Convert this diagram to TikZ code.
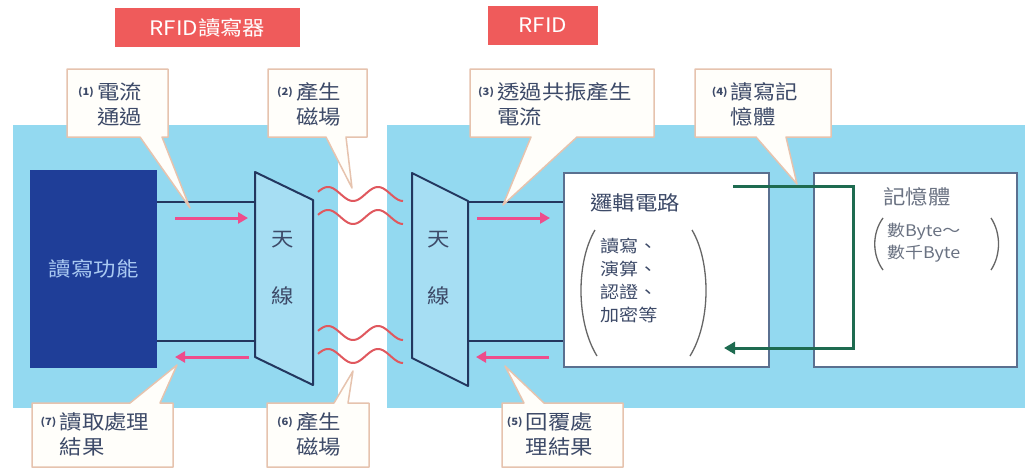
\documentclass[tikz,border=0pt]{standalone}
\usepackage{fontspec}
\setmainfont{Noto Sans CJK TC}[FakeStretch=1.12]
\usetikzlibrary{arrows.meta}
\definecolor{bgblue}{HTML}{93D9F0}
\definecolor{antfill}{HTML}{A6DEF3}
\definecolor{navy}{HTML}{23375F}
\definecolor{darkbox}{HTML}{1F3E98}
\definecolor{darktxt}{HTML}{A9C9F2}
\definecolor{txt}{HTML}{3D4A68}
\definecolor{graytxt}{HTML}{6A7282}
\definecolor{pinkar}{HTML}{EE4D8C}
\definecolor{wavec}{HTML}{E0585E}
\definecolor{titlered}{HTML}{EF5B5B}
\definecolor{callb}{HTML}{E6C3AE}
\definecolor{callf}{HTML}{FFFEFA}
\definecolor{greenar}{HTML}{1E6B50}
\definecolor{boxline}{HTML}{5A7090}
\newcommand\cnum[1]{\raisebox{4pt}{\fontsize{10}{12}\selectfont\bfseries #1}}
\begin{document}
\begin{tikzpicture}[x=1pt,y=-1pt,
  callout/.style={draw=callb,fill=callf,line width=1.5pt,line join=round},
  ctext/.style={text=txt,font=\fontsize{20}{25}\selectfont,inner sep=0pt},
  title/.style={fill=titlered,text=white,font=\fontsize{20}{24}\selectfont,inner sep=0pt,minimum height=39pt},
  antenna/.style={draw=navy,fill=antfill,line width=2pt,line join=round},
  wire/.style={draw=navy,line width=2.5pt},
  pinkarrow/.style={draw=pinkar,line width=3pt,-{Triangle[length=10pt,width=11pt]}},
  wave/.style={draw=wavec,line width=2pt},
  whitebox/.style={draw=boxline,fill=white,line width=1.5pt,inner sep=0pt,anchor=north west},
  paren/.style={draw=gray!80!black,line width=1.3pt}
]
\useasboundingbox (0,0) rectangle (1025,472);
\fill[white] (0,0) rectangle (1025,472);
% backgrounds
\fill[bgblue] (13,125) rectangle (338,408);
\fill[bgblue] (387,125) rectangle (1025,408);
% titles
\node[title,minimum width=185pt] (t1) at (207.5,27.5) {RFID讀寫器};
\node[title,minimum width=110pt] (t2) at (543,25.5) {RFID};
% reader function box
\node[fill=darkbox,minimum width=127pt,minimum height=198pt,inner sep=0pt,anchor=north west,
      text=darktxt,font=\fontsize{20}{24}\selectfont] (rw) at (30,170) {讀寫功能};
% antennas
\draw[antenna] (255,172) coordinate (a1tl) -- (313,200) coordinate (a1tr) -- (313,385) coordinate (a1br) -- (255,357) coordinate (a1bl) -- cycle;
\draw[antenna] (412,173) coordinate (a2tl) -- (468,201) coordinate (a2tr) -- (468,386) coordinate (a2br) -- (412,358) coordinate (a2bl) -- cycle;
\node[text=txt,font=\fontsize{20}{24}\selectfont] (a1t) at (283,240) {天};
\node[text=txt,font=\fontsize{20}{24}\selectfont] (a1b) at (283,296) {線};
\node[text=txt,font=\fontsize{20}{24}\selectfont] (a2t) at (439,240) {天};
\node[text=txt,font=\fontsize{20}{24}\selectfont] (a2b) at (439,296) {線};
% logic box and memory box
\node[whitebox,minimum width=205pt,minimum height=194pt] (logic) at (563,172) {};
\node[whitebox,minimum width=203pt,minimum height=194pt] (mem) at (813,172) {};
% wires
\draw[wire] (rw.north east |- 0,202) -- (255,202);
\draw[wire] (rw.north east |- 0,341) -- (255,341);
\draw[wire] (468,202) -- (logic.north west |- 0,202);
\draw[wire] (468,341) -- (logic.north west |- 0,341);
% pink arrows
\coordinate (p1s) at (175,218); \coordinate (p1e) at (248,218);
\coordinate (p2s) at (477,218); \coordinate (p2e) at (550,218);
\coordinate (p3s) at (249,357); \coordinate (p3e) at (175,357);
\coordinate (p4s) at (549,357); \coordinate (p4e) at (476,357);
\draw[pinkarrow] (p1s) -- (p1e);
\draw[pinkarrow] (p2s) -- (p2e);
\draw[pinkarrow] (p3s) -- (p3e);
\draw[pinkarrow] (p4s) -- (p4e);
% waves
\foreach \c in {194,217,333,356}{
  \draw[wave,domain=318:403,samples=60,smooth] plot (\x,{\c-7*sin((\x-328)*7.2+90)});
}
% logic box contents
\node[text=txt,font=\fontsize{20}{24}\selectfont] (lt) at (635,203) {邏輯電路};
\node[text=txt,font=\fontsize{17}{23}\selectfont,align=left,anchor=north west,inner sep=0pt] (ll) at (600,238) {讀寫、\\演算、\\認證、\\加密等};
\draw[paren] (595,230) .. controls (576,262) and (576,322) .. (597,356);
\draw[paren] (692,230) .. controls (711,262) and (711,322) .. (690,356);
% memory box contents
\node[text=graytxt,font=\fontsize{20}{24}\selectfont] (mt) at (917,197) {記憶體};
\node[text=graytxt,font=\fontsize{16}{22}\selectfont,align=left,anchor=north west,inner sep=0pt] (ml) at (887,223) {數Byte～\\數千Byte};
\draw[paren] (883,218) .. controls (872,233) and (872,255) .. (883,270);
\draw[paren] (991,218) .. controls (1001,233) and (1001,255) .. (991,270);
% green arrow
\coordinate (g1) at (733,186);
\coordinate (g2) at (853,186);
\coordinate (g3) at (853,348);
\coordinate (g4) at (724,348);
\draw[greenar,line width=3pt,-{Triangle[length=11pt,width=12pt]}] (g1) -- (g2) -- (g3) -- (g4);
% callouts top
\draw[callout] (67,69) -- (168,69) -- (168,137) -- (162,137) -- (190,208) -- (140,137) -- (67,137) -- cycle;
\node[ctext] (c1) at (113,107) {\begin{tabular}{@{}l@{\,}l}\cnum{(1)}&電流\\&通過\end{tabular}};
\draw[callout] (268,69) -- (367,69) -- (367,137) -- (346,137) -- (352,188) -- (326,137) -- (268,137) -- cycle;
\node[ctext] (c2) at (312,107) {\begin{tabular}{@{}l@{\,}l}\cnum{(2)}&產生\\&磁場\end{tabular}};
\draw[callout] (470,69) -- (654,69) -- (654,137) -- (577,137) -- (503,205) -- (531,137) -- (470,137) -- cycle;
\node[ctext] (c3) at (558,107) {\begin{tabular}{@{}l@{\,}l}\cnum{(3)}&透過共振產生\\&電流\end{tabular}};
\draw[callout] (695,69) -- (831,69) -- (831,137) -- (786,137) -- (797,184) -- (756,137) -- (695,137) -- cycle;
\node[ctext] (c4) at (758,107) {\begin{tabular}{@{}l@{\,}l}\cnum{(4)}&讀寫記\\&憶體\end{tabular}};
% callouts bottom
\draw[callout] (32,403) -- (130,403) -- (177,365) -- (160,403) -- (173,403) -- (173,467) -- (32,467) -- cycle;
\node[ctext] (c7) at (98,437) {\begin{tabular}{@{}l@{\,}l}\cnum{(7)}&讀取處理\\&結果\end{tabular}};
\draw[callout] (267,403) -- (334,403) -- (353,371) -- (348,403) -- (369,403) -- (369,467) -- (267,467) -- cycle;
\node[ctext] (c6) at (312,437) {\begin{tabular}{@{}l@{\,}l}\cnum{(6)}&產生\\&磁場\end{tabular}};
\draw[callout] (502,403) -- (524,403) -- (505,366) -- (544,403) -- (623,403) -- (623,467) -- (502,467) -- cycle;
\node[ctext] (c5) at (553,437) {\begin{tabular}{@{}l@{\,}l}\cnum{(5)}&回覆處\\&理結果\end{tabular}};
\end{tikzpicture}
\end{document}
